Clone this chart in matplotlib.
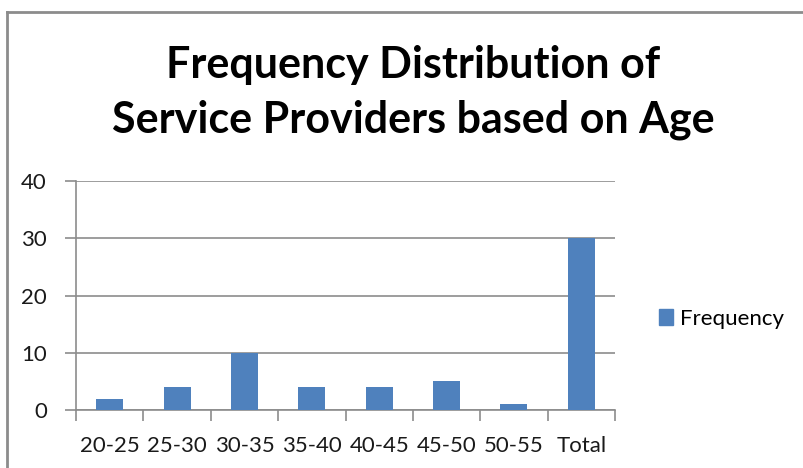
import matplotlib.pyplot as plt
from matplotlib.lines import Line2D
from matplotlib.patches import Patch

plt.rcParams['font.family'] = ['Lato', 'DejaVu Sans']

age_groups = ['20-25', '25-30', '30-35', '35-40', '40-45', '45-50', '50-55', 'Total']
frequency = [2, 4, 10, 4, 4, 5, 1, 30]
y_ticks = [0, 10, 20, 30, 40]
title_lines = ['Frequency Distribution of', 'Service Providers based on Age']

bar_color = '#4F81BD'
line_gray = '#8c8c8c'
W, H = 804, 468

fig = plt.figure(figsize=(W / 100, H / 100), dpi=100)
ax = fig.add_axes([76 / W, 1 - 410 / H, (615 - 76) / W, (410 - 181) / H])

x = range(len(age_groups))
ax.bar(x, frequency, width=0.40, color=bar_color, zorder=3)

ax.set_xlim(-0.5, len(age_groups) - 0.5)
ax.set_ylim(0, 40)
ax.set_yticks(y_ticks)
ax.yaxis.grid(True, color=line_gray, linewidth=1.2, zorder=0)

# category labels centred under bars, tick marks on the boundaries
ax.set_xticks([i + 0.5 for i in range(-1, len(age_groups))], minor=False)
ax.set_xticklabels([])
ax.set_xticks(list(x), minor=True)
ax.set_xticklabels(age_groups, minor=True)
ax.tick_params(axis='x', which='major', length=8, width=1.2, color=line_gray, direction='out')
ax.tick_params(axis='x', which='minor', length=0, pad=19, labelsize=16, labelcolor='#1a1a1a')
ax.tick_params(axis='y', length=8, width=1.2, color=line_gray, pad=13, labelsize=16,
               labelcolor='#1a1a1a')

for side in ['top', 'right']:
    ax.spines[side].set_visible(False)
for side in ['left', 'bottom']:
    ax.spines[side].set_color(line_gray)
    ax.spines[side].set_linewidth(1.2)

for line, base in zip(title_lines, [78, 132]):
    fig.text(413 / W, 1 - base / H, line, ha='center', va='baseline',
             fontsize=31, fontweight='bold')

fig.legend(handles=[Patch(color=bar_color, label='Frequency')], loc='center left',
           bbox_to_anchor=(659 / W, 1 - 319 / H), frameon=False, fontsize=16,
           handlelength=0.65, handleheight=0.7, handletextpad=0.3, borderaxespad=0,
           borderpad=0)

# chart frame
fig.add_artist(Line2D([7 / W, 7 / W], [0, 1 - 12 / H], transform=fig.transFigure,
                      color=line_gray, linewidth=2))
fig.add_artist(Line2D([7 / W, 1], [1 - 12 / H, 1 - 12 / H], transform=fig.transFigure,
                      color=line_gray, linewidth=2))

fig.savefig('out.png', dpi=100)
